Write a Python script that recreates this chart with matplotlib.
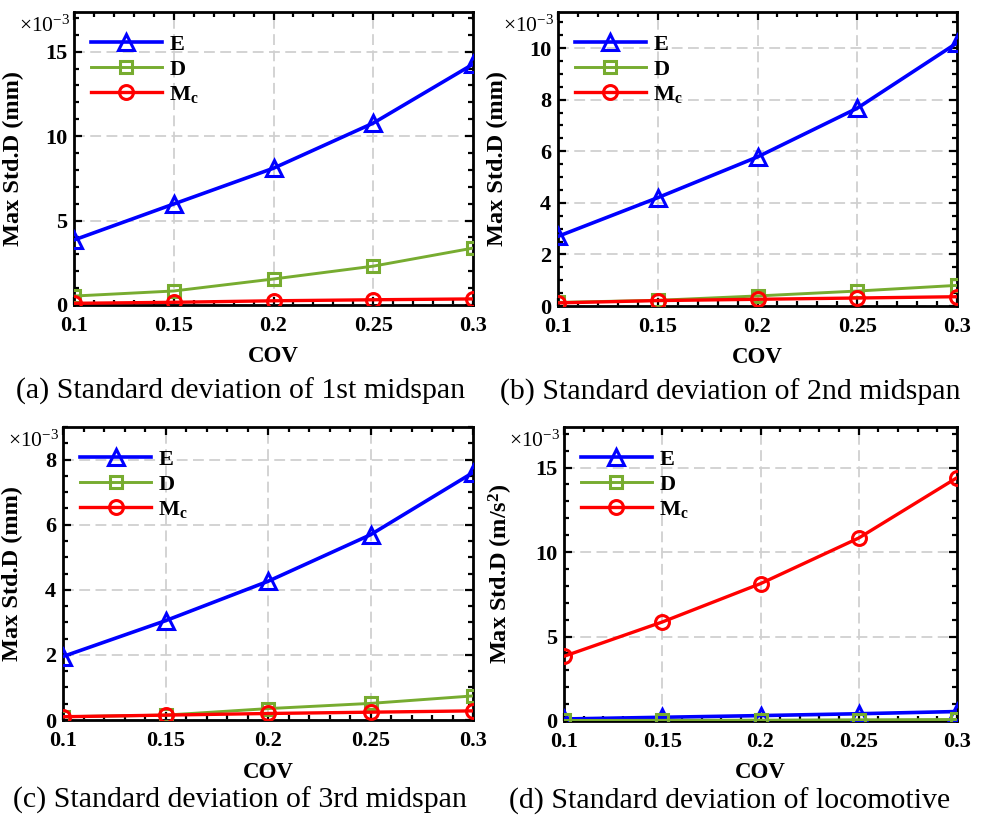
import matplotlib
matplotlib.use("Agg")
import matplotlib.pyplot as plt
from matplotlib.ticker import MultipleLocator, FixedLocator

plt.rcParams["font.family"] = ["Liberation Serif", "DejaVu Serif"]
plt.rcParams["mathtext.fontset"] = "custom"
plt.rcParams["mathtext.rm"] = "Liberation Serif"
plt.rcParams["mathtext.bf"] = "Liberation Serif:bold"
plt.rcParams["mathtext.it"] = "Liberation Serif:italic"

FIG_W, FIG_H = 983, 824

cov = [0.1, 0.15, 0.2, 0.25, 0.3]
cov_labels = ["0.1", "0.15", "0.2", "0.25", "0.3"]

# values in units of 1e-3
e_mid1 = [3.85, 5.98, 8.10, 10.77, 14.26]
d_mid1 = [0.53, 0.83, 1.54, 2.30, 3.37]
mc_mid1 = [0.10, 0.16, 0.25, 0.31, 0.36]

e_mid2 = [2.70, 4.20, 5.78, 7.67, 10.20]
d_mid2 = [0.14, 0.22, 0.39, 0.58, 0.80]
mc_mid2 = [0.12, 0.21, 0.26, 0.31, 0.36]

e_mid3 = [1.95, 3.05, 4.26, 5.69, 7.60]
d_mid3 = [0.10, 0.15, 0.35, 0.51, 0.74]
mc_mid3 = [0.10, 0.15, 0.20, 0.24, 0.28]

e_loco = [0.12, 0.22, 0.32, 0.43, 0.56]
d_loco = [0.03, 0.04, 0.05, 0.07, 0.09]
mc_loco = [3.83, 5.86, 8.13, 10.83, 14.40]

captions = [
    "(a) Standard deviation of 1st midspan",
    "(b) Standard deviation of 2nd midspan",
    "(c) Standard deviation of 3rd midspan",
    "(d) Standard deviation of locomotive",
]
ylabels = ["Max Std.D (mm)", "Max Std.D (mm)", "Max Std.D (mm)", r"Max Std.D (m/s$^\mathbf{2}$)"]

BLUE = "#0000ff"
GREEN = "#77ac30"
RED = "#ff0000"

# panel boxes in pixels: left, top, right, bottom
boxes = [
    (74, 12, 473, 305),
    (558, 12, 957, 306),
    (63, 427, 473, 720),
    (564, 427, 957, 721),
]
ylims = [17.35, 11.4, 9.0, 17.4]
ymajor = [5, 2, 2, 5]
yminor = [1, 0.5, 0.5, 1]
ylabel_x = [24, 508, 23, 515]
caption_x = [241, 730, 240, 730]
series = [
    (e_mid1, d_mid1, mc_mid1),
    (e_mid2, d_mid2, mc_mid2),
    (e_mid3, d_mid3, mc_mid3),
    (e_loco, d_loco, mc_loco),
]


def px_to_fig(x, y):
    return x / FIG_W, 1 - y / FIG_H


fig = plt.figure(figsize=(FIG_W / 100, FIG_H / 100), dpi=100)

for i, (l, t, r, b) in enumerate(boxes):
    ax = fig.add_axes([l / FIG_W, 1 - b / FIG_H, (r - l) / FIG_W, (b - t) / FIG_H])
    e_vals, d_vals, mc_vals = series[i]
    ax.plot(cov, e_vals, color=BLUE, lw=2.6, marker="^", ms=12, mfc="none", mew=2.2, label=r"$\mathbf{E}$", zorder=3)
    ax.plot(cov, d_vals, color=GREEN, lw=2.1, marker="s", ms=8, mfc="none", mew=2.2, label=r"$\mathbf{D}$", zorder=3)
    ax.plot(cov, mc_vals, color=RED, lw=2.4, marker="o", ms=10, mfc="none", mew=2.2, label=r"$\mathbf{M_c}$", zorder=3)

    ax.set_xlim(0.1, 0.3)
    ax.set_ylim(0, ylims[i])
    ax.xaxis.set_major_locator(FixedLocator(cov))
    ax.set_xticklabels(cov_labels)
    ax.xaxis.set_minor_locator(MultipleLocator(0.01))
    ax.yaxis.set_major_locator(MultipleLocator(ymajor[i]))
    ax.yaxis.set_minor_locator(MultipleLocator(yminor[i]))
    ax.tick_params(which="both", direction="in", top=True, right=True, width=1.6)
    ax.tick_params(which="major", length=6, labelsize=16)
    ax.tick_params(axis="x", which="major", pad=8)
    ax.tick_params(axis="y", which="major", pad=5)
    ax.tick_params(which="minor", length=3.5)
    for lab in ax.get_xticklabels() + ax.get_yticklabels():
        lab.set_fontweight("bold")
    for sp in ax.spines.values():
        sp.set_linewidth(2)
    ax.grid(True, which="major", color="#d0d0d0", linestyle=(0, (6, 3)), lw=1.3)
    ax.set_axisbelow(True)

    ax.set_ylabel(ylabels[i], fontsize=17.5, fontweight="bold")
    ax.yaxis.set_label_coords((ylabel_x[i] - l) / (r - l), 0.5)

    ax.legend(loc="upper left", frameon=False, fontsize=16, handlelength=3.2,
              handletextpad=0.3, labelspacing=0.2, borderaxespad=0.0,
              bbox_to_anchor=(0.02, 0.955))

    # multiplier above the y axis
    fx, fy = px_to_fig(l - 55, t + 14)
    fig.text(fx, fy, r"$\times10^{-3}$", fontsize=15.5, va="center", ha="left")

    fx, fy = px_to_fig((l + r) / 2, b + 52)
    fig.text(fx, fy, "COV", fontsize=16.5, fontweight="bold", ha="center", va="center")
    fx, fy = px_to_fig(caption_x[i], b + 86 if i < 2 else b + 80)
    fig.text(fx, fy, captions[i], fontsize=21.5, ha="center", va="center")

fig.savefig("out.png", dpi=100)
